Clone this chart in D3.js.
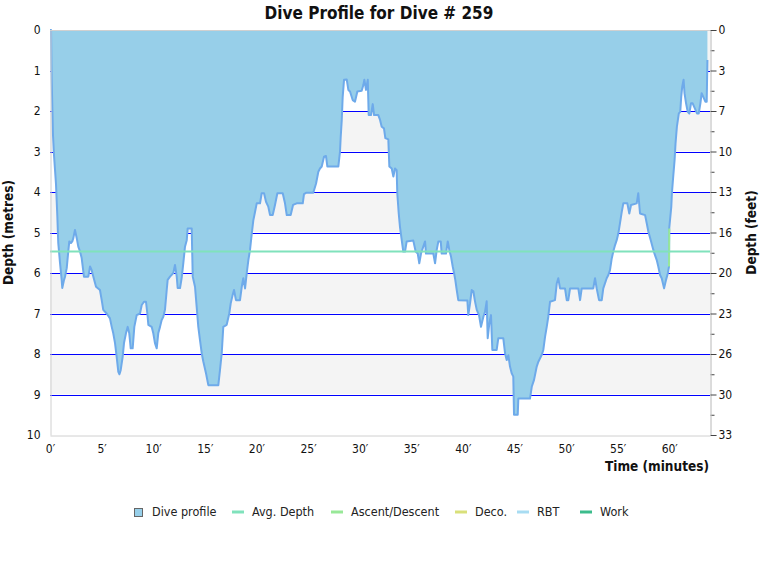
<!DOCTYPE html>
<html>
<head>
<meta charset="utf-8">
<script src="https://cdn.jsdelivr.net/npm/d3@7"></script>
<style>
  body { margin: 0; background: #fff; }
  svg text { font-family: 'DejaVu Sans Condensed', 'DejaVu Sans', Verdana, sans-serif; }
</style>
</head>
<body>
<svg id="chart" width="760" height="580"></svg>
<script>
// ---- data (minutes, metres) ----
const times = [0,0.1,0.16,0.29,0.39,0.58,0.71,0.8,0.97,1.13,1.19,1.36,1.45,1.62,1.77,1.87,2.03,2.16,2.26,2.42,2.59,2.74,2.91,3.07,3.17,3.29,3.71,3.88,4.04,4.2,4.46,4.84,5.01,5.16,5.49,5.81,5.98,6.13,6.3,6.46,6.62,6.73,6.85,7.04,7.17,7.36,7.53,7.68,7.82,8.01,8.17,8.4,8.72,8.89,9.11,9.3,9.43,9.53,9.85,10.01,10.17,10.34,10.49,10.66,10.82,10.98,11.14,11.31,11.4,11.63,11.95,12.11,12.28,12.37,12.6,12.76,12.92,13.08,13.25,13.34,13.73,13.83,14.05,14.21,14.37,14.53,14.7,14.86,15.12,15.34,16.31,16.47,16.64,16.79,17.12,17.37,17.51,17.7,17.83,18.02,18.41,18.58,18.73,18.9,19.06,19.22,19.38,19.54,19.7,19.86,20.03,20.35,20.51,20.74,20.93,21.15,21.32,21.58,21.8,22.03,22.55,22.77,22.94,23.32,23.55,23.9,24.49,24.61,24.81,25.51,25.78,26.0,26.16,26.33,26.55,26.74,26.87,27.94,28.1,28.17,28.27,28.36,28.49,28.75,28.91,29.07,29.33,29.55,29.78,30.2,30.36,30.46,30.62,30.79,30.88,31.1,31.27,31.4,31.81,31.98,32.14,32.36,32.49,32.78,32.88,33.11,33.27,33.43,33.59,33.65,33.79,33.91,34.08,34.23,34.4,34.56,35.2,35.43,35.63,35.78,35.95,36.17,36.34,36.43,37.14,37.31,37.47,37.63,37.86,37.95,38.37,38.54,38.69,38.86,39.02,39.15,39.27,39.41,39.56,40.44,40.53,40.7,40.86,41.02,41.18,41.35,41.57,41.76,41.99,42.15,42.31,42.41,42.57,42.73,42.86,43.28,43.44,43.92,44.09,44.25,44.41,44.57,44.74,44.89,44.96,45.32,45.38,46.51,46.68,46.9,47.16,47.32,47.65,47.8,47.97,48.13,48.28,48.45,48.93,49.1,49.25,49.42,49.9,50.07,50.22,50.39,51.19,51.36,51.52,52.64,52.81,52.97,53.2,53.46,53.61,53.94,54.1,54.26,54.43,54.58,54.75,54.91,55.07,55.23,55.4,55.55,55.94,56.13,56.3,56.85,57.0,57.17,57.66,57.82,57.98,58.21,58.46,58.62,58.79,58.94,59.11,59.27,59.5,59.69,59.86,59.98,60.0,60.2,60.26,60.36,60.52,60.61,60.74,60.93,61.07,61.16,61.26,61.39,61.48,61.63,61.79,61.95,62.11,62.27,62.69,62.86,63.02,63.14,63.5,63.63,63.66,63.7];
const depths = [0,0,1.2,2.6,3.1,3.8,4.6,5.26,5.75,6.17,6.37,6.17,6.1,5.88,5.47,5.22,5.26,5.22,5.14,4.94,5.14,5.35,5.47,5.63,5.84,6.09,6.09,5.84,5.93,6.09,6.34,6.42,6.67,6.91,7.0,7.12,7.33,7.49,7.73,8.07,8.44,8.5,8.4,8.07,7.73,7.49,7.33,7.49,7.86,7.86,7.33,7.04,7.0,6.79,6.71,6.71,7.0,7.28,7.33,7.49,7.73,7.86,7.49,7.33,7.16,7.08,6.91,6.42,6.17,6.09,6.0,5.8,6.09,6.37,6.37,6.12,5.75,5.35,5.19,4.9,4.9,6.09,6.34,6.83,7.33,7.65,7.98,8.19,8.48,8.77,8.77,8.4,7.98,7.33,7.28,7.0,6.75,6.54,6.42,6.67,6.67,6.34,6.13,6.38,6.01,5.68,5.43,5.05,4.7,4.5,4.28,4.28,4.03,4.03,4.24,4.36,4.57,4.57,4.32,4.03,4.03,4.28,4.57,4.57,4.32,4.28,4.28,4.05,4.02,4.02,3.79,3.5,3.42,3.37,3.13,3.11,3.37,3.37,3.0,2.63,2.22,1.65,1.23,1.22,1.48,1.52,1.73,1.77,1.52,1.5,1.36,1.23,1.48,1.23,2.1,2.1,1.83,2.1,2.1,2.22,2.39,2.43,2.67,2.7,3.37,3.42,3.62,3.42,3.46,4.03,4.53,4.86,5.19,5.47,5.47,5.22,5.2,5.47,5.52,5.76,5.52,5.35,5.22,5.52,5.52,5.76,5.43,5.22,5.22,5.52,5.52,5.22,5.43,5.6,5.84,6.0,6.17,6.42,6.67,6.68,7.04,6.75,6.42,6.45,6.7,6.91,7.04,7.33,7.08,6.96,6.7,7.61,7.24,7.04,7.9,7.9,7.61,7.61,7.98,8.15,8.03,8.31,8.48,8.56,9.5,9.5,9.1,9.1,8.81,8.64,8.31,8.19,8.02,7.9,7.57,7.33,7.08,6.71,6.67,6.26,6.13,6.38,6.38,6.67,6.67,6.38,6.38,6.67,6.38,6.38,6.13,6.38,6.67,6.67,6.38,6.13,6.05,5.93,5.64,5.47,5.31,5.19,5.02,4.77,4.49,4.28,4.28,4.53,4.32,4.28,4.03,4.53,4.57,4.77,4.98,5.19,5.43,5.56,5.68,5.84,6.05,6.13,6.38,6.17,6.01,5.84,4.9,4.36,4.03,3.7,3.21,2.8,2.39,2.06,2.02,1.65,1.4,1.23,1.56,1.81,2.02,2.06,1.81,1.81,2.06,2.06,1.81,1.56,1.77,1.77,1.32,0.74,0];
const avgDepth = 5.47;
const ascentTimes = [59.98, 60.0];
const ascentDepths = [5.84, 4.9];
const metreTicks = [0,1,2,3,4,5,6,7,8,9,10];
const feetTickLabels = ["0","3","7","10","13","16","20","23","26","30","33"];
const minuteTicks = [0,5,10,15,20,25,30,35,40,45,50,55,60];
const legendItems = ["Dive profile","Avg. Depth","Ascent/Descent","Deco.","RBT","Work"];
const legendColors = ["#97cfe9","#80e2bc","#98e898","#d9e07a","#a8dcf2","#3cbc8c"];

// ---- layout ----
const svg = d3.select("#chart");
const L = 50, R = 710, T = 30, B = 435;
const x = d3.scaleLinear().domain([0, 63.95]).range([L, R]);
const y = d3.scaleLinear().domain([0, 10]).range([T, B]);
const data = times.map((t, i) => ({t, d: depths[i]}));

// bands
svg.append("g").selectAll("rect")
  .data(metreTicks.slice(0, -1))
  .join("rect")
  .attr("x", L).attr("width", R - L)
  .attr("y", d => y(d)).attr("height", d => y(d + 1) - y(d))
  .attr("fill", d => d % 2 === 0 ? "#f4f4f4" : "#ffffff");

// grid lines
svg.append("g").selectAll("line")
  .data(metreTicks.slice(1, -1))
  .join("line")
  .attr("x1", L).attr("x2", R)
  .attr("y1", d => Math.round(y(d)) + 0.5).attr("y2", d => Math.round(y(d)) + 0.5)
  .attr("stroke", "#0000ff").attr("stroke-width", 1);

// profile area
const area = d3.area().x(d => x(d.t)).y0(y(0)).y1(d => y(d.d));
svg.append("path").datum(data).attr("d", area).attr("fill", "#97cfe9");
const line = d3.line().x(d => x(d.t)).y(d => y(d.d));
svg.append("path").datum(data).attr("d", line)
  .attr("fill", "none").attr("stroke", "#6eaaea").attr("stroke-width", 2)
  .attr("stroke-linejoin", "round");

// ascent/descent highlight
svg.append("path")
  .datum(ascentTimes.map((t, i) => ({t, d: ascentDepths[i]})))
  .attr("d", line).attr("fill", "none")
  .attr("stroke", legendColors[2]).attr("stroke-width", 2);

// avg depth
svg.append("line")
  .attr("x1", L).attr("x2", R)
  .attr("y1", y(avgDepth)).attr("y2", y(avgDepth))
  .attr("stroke", legendColors[1]).attr("stroke-width", 2);

// frame
svg.append("line").attr("x1", L).attr("x2", R).attr("y1", T + 0.5).attr("y2", T + 0.5).attr("stroke", "#d0d0d0");

// left axis
const leftAxis = svg.append("g").attr("transform", `translate(${L + 0.5},0)`)
  .call(d3.axisLeft(y).tickValues(metreTicks).tickFormat(d3.format("d")).tickSize(0).tickPadding(10));
leftAxis.select(".domain").attr("stroke", "#d0d0d0");
leftAxis.selectAll("text").attr("font-size", 12).attr("fill", "#111");

// right axis minor
const minorAxis = svg.append("g").attr("transform", `translate(${R + 0.5},0)`)
  .call(d3.axisRight(y).tickValues(d3.range(0.5, 10, 1)).tickFormat("").tickSize(4));
minorAxis.select(".domain").attr("stroke", "#d0d0d0");
minorAxis.selectAll("line").attr("stroke", "#444");
const rightAxis = svg.append("g").attr("transform", `translate(${R + 0.5},0)`)
  .call(d3.axisRight(y).tickValues(metreTicks).tickFormat((d, i) => feetTickLabels[i]).tickSize(6).tickPadding(2));
rightAxis.select(".domain").attr("stroke", "#d0d0d0");
rightAxis.selectAll("line").attr("stroke", "#444");
rightAxis.selectAll("text").attr("font-size", 12).attr("fill", "#111");

// bottom axis
const bottomAxis = svg.append("g").attr("transform", `translate(0,${B + 0.5})`)
  .call(d3.axisBottom(x).tickValues(minuteTicks).tickFormat(d => d + "\u2032").tickSize(0).tickPadding(9));
bottomAxis.select(".domain").attr("stroke", "#d0d0d0");
bottomAxis.selectAll("text").attr("font-size", 12).attr("fill", "#111");

// titles
svg.append("text").attr("x", 379).attr("y", 19).attr("text-anchor", "middle")
  .attr("font-size", 17).attr("font-weight", "bold").attr("fill", "#111")
  .text("Dive Profile for Dive # 259");
svg.append("text").attr("transform", `translate(13,${(T + B) / 2}) rotate(-90)`)
  .attr("text-anchor", "middle").attr("font-size", 13.5).attr("font-weight", "bold").attr("fill", "#111")
  .text("Depth (metres)");
svg.append("text").attr("transform", `translate(756,${(T + B) / 2}) rotate(-90)`)
  .attr("text-anchor", "middle").attr("font-size", 13.5).attr("font-weight", "bold").attr("fill", "#111")
  .text("Depth (feet)");
svg.append("text").attr("x", 709).attr("y", 471).attr("text-anchor", "end")
  .attr("font-size", 13.5).attr("font-weight", "bold").attr("fill", "#111")
  .text("Time (minutes)");

// legend
const legendX = [134, 232, 331, 455, 517, 580];
const lg = svg.append("g").selectAll("g").data(legendItems).join("g")
  .attr("transform", (d, i) => `translate(${legendX[i]},512)`);
lg.each(function(d, i) {
  const g = d3.select(this);
  if (i === 0) {
    g.append("rect").attr("x", 0.5).attr("y", -3.5).attr("width", 8).attr("height", 8)
      .attr("fill", legendColors[0]).attr("stroke", "#666");
  } else {
    g.append("line").attr("x1", 0).attr("x2", 12).attr("y1", 0).attr("y2", 0)
      .attr("stroke", legendColors[i]).attr("stroke-width", 3);
  }
  g.append("text").attr("x", i === 0 ? 18 : 20).attr("y", 4)
    .attr("font-size", 12.5).attr("fill", "#222").text(d);
});
</script>
</body>
</html>
